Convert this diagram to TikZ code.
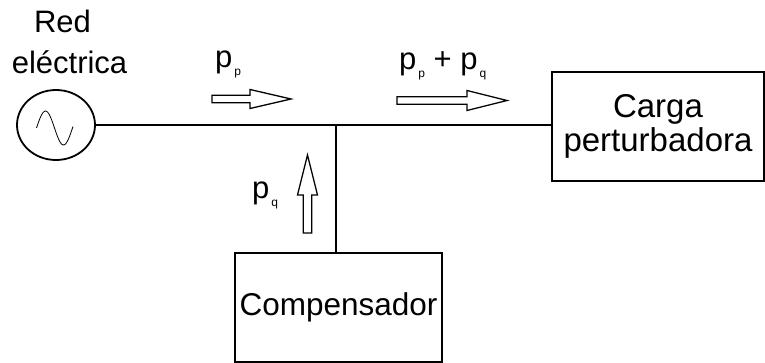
\documentclass[tikz,border=0pt]{standalone}
\usepackage{fontspec}
\setmainfont{Liberation Sans}
\usetikzlibrary{positioning}
\usetikzlibrary{shapes.geometric}
\tikzset{>=latex}

% potencia con subindice pequeno y bajo
\newcommand{\pot}[1]{p\kern2pt\raisebox{-7.5pt}{\fontsize{12}{12}\selectfont #1}}

\begin{document}
\begin{tikzpicture}[x=1pt,y=-1pt,
	linea/.style={line width=1.8pt},
	bloque/.style={draw,line width=1.8pt,align=center,inner sep=0pt,font=\fontsize{33}{34}\selectfont},
	rotulo/.style={anchor=base,inner sep=0pt,font=\fontsize{31}{31}\selectfont},
	potlabel/.style={anchor=base west,inner sep=0pt,font=\fontsize{31}{31}\selectfont},
	hueca/.style={draw,line width=1.3pt,fill=white,line join=miter}]
	\useasboundingbox (0,0) rectangle (765,363);

	% fuente
	\node[ellipse,draw,line width=1.8pt,minimum width=78pt,minimum height=70pt,inner sep=0pt] (red) at (56,125) {};
	\draw[line width=0.8pt,shift={(red.center)}] plot[smooth,domain=-19.5:17,samples=30] (\x,{3-17*sin(10*(\x+19.5))});
	\node[rotulo] (red1) at (62.5,33) {Red};
	\node[rotulo] (red2) at (69.5,74) {eléctrica};

	% bloques
	\node[bloque,minimum width=212pt,minimum height=109pt] (carga) at (658,126.5) {Carga\\perturbadora};
	\node[bloque,minimum width=207pt,minimum height=109pt,font=\fontsize{31.5}{34}\selectfont] (comp) at (338.5,307.5) {Compensador};

	% conexiones
	\coordinate (union) at (336,125);
	\draw[linea] (red.east) -- (red.east -| carga.west);
	\draw[linea] (union) -- (union |- comp.north);

	% flujos de potencia
	\draw[hueca,shift={(212,99)}] (0,-3.7) -- (38,-3.7) -- (38,-9.5) -- (79,0) -- (38,9.5) -- (38,3.7) -- (0,3.7) -- cycle;
	\draw[hueca,shift={(397,100.5)}] (0,-3.8) -- (70,-3.8) -- (70,-10) -- (110,0) -- (70,10) -- (70,3.8) -- (0,3.8) -- cycle;
	\draw[hueca,shift={(307.5,233)}] (-4.2,0) -- (-4.2,-38) -- (-10,-38) -- (0,-78) -- (10,-38) -- (4.2,-38) -- (4.2,0) -- cycle;

	\node[potlabel] (pp) at (215,68) {\pot{p}};
	\node[potlabel] (ppq) at (399,70) {\pot{p}\ + \pot{q}};
	\node[potlabel] (pq) at (252,199) {\pot{q}};
\end{tikzpicture}
\end{document}
